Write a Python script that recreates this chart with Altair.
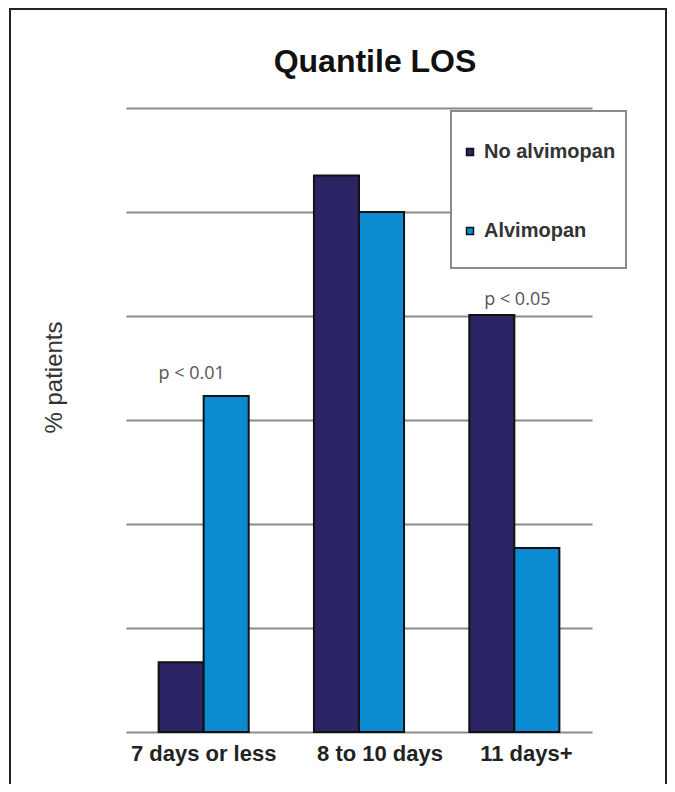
import altair as alt
import pandas as pd

categories = ["7 days or less", "8 to 10 days", "11 days+"]
series = ["No alvimopan", "Alvimopan"]
no_alvimopan = [6.7, 53.5, 40.1]
alvimopan = [32.3, 50.0, 17.7]
y_ticks = [0, 10, 20, 30, 40, 50, 60]
colors = ["#2b2566", "#0a8bd2"]
p_labels = ["p < 0.01", "p < 0.05"]
p_categories = ["7 days or less", "11 days+"]
p_heights = [33.9, 41.1]
chart_title = "Quantile LOS"

rows = []
for c, a, b in zip(categories, no_alvimopan, alvimopan):
    rows.append({"category": c, "group": series[0], "value": a})
    rows.append({"category": c, "group": series[1], "value": b})
df = pd.DataFrame(rows)
p_df = pd.DataFrame({"category": p_categories, "value": p_heights, "label": p_labels})

FONT = "Liberation Sans"
x_scale = alt.Scale(domain=categories, paddingInner=0.42, paddingOuter=0.21)
y_scale = alt.Scale(domain=[0, 60], nice=False, zero=True)

label_shift = {
    "condition": [
        {"test": "datum.value === '8 to 10 days'", "value": 21},
        {"test": "datum.value === '11 days+'", "value": 12},
    ],
    "value": 0,
}

bars = alt.Chart(df).mark_bar(stroke="#111111", strokeWidth=2).encode(
    x=alt.X("category:N", scale=x_scale, sort=categories,
            axis=alt.Axis(title=None, labelAngle=0, domain=False, ticks=False, tickSize=0,
                          labelFont=FONT, labelFontSize=22, labelFontWeight="bold",
                          labelColor="#222222", labelBaseline="alphabetic", labelPadding=28,
                          labelOffset=label_shift, grid=False)),
    xOffset=alt.XOffset("group:N", sort=series,
                        scale=alt.Scale(domain=series, paddingInner=0, paddingOuter=0)),
    y=alt.Y("value:Q", scale=y_scale,
            axis=alt.Axis(values=y_ticks, title="% patients", labels=False, ticks=False,
                          domain=False, grid=True, gridColor="#8a8a8a", gridWidth=2,
                          titleFont=FONT, titleFontSize=24, titleFontWeight="normal",
                          titleColor="#333333", titleX=-72, titleY=269, titleAngle=270,
                          titleAlign="center", titleBaseline="middle")),
    color=alt.Color("group:N", scale=alt.Scale(domain=series, range=colors),
                    legend=alt.Legend(title=None, orient="none", legendX=334, legendY=34,
                                      symbolType="square", symbolSize=49,
                                      symbolStrokeColor="#111111", symbolStrokeWidth=1.5,
                                      labelFont=FONT, labelFontSize=20, labelFontWeight="bold",
                                      labelColor="#333333", labelOffset=4, rowPadding=59,
                                      padding=0, direction="vertical")),
)

legend_box = alt.Chart(alt.Data(values=[{"k": 1}])).mark_rect(
    fill="white", stroke="#8a8a8a", strokeWidth=2
).encode(x=alt.value(325), x2=alt.value(500), y=alt.value(3), y2=alt.value(160))

frame = alt.Chart(alt.Data(values=[{"k": 1}])).mark_rect(
    filled=False, stroke="#222222", strokeWidth=2
).encode(x=alt.value(-116), x2=alt.value(540), y=alt.value(-99), y2=alt.value(682))

title_text = alt.Chart(alt.Data(values=[{"t": chart_title}])).mark_text(
    font=FONT, fontSize=32, fontWeight="bold", color="#111111",
    align="center", baseline="alphabetic"
).encode(x=alt.value(249), y=alt.value(-36), text="t:N")

p1 = alt.Chart(p_df.iloc[[0]]).mark_text(
    font="Open Sans", fontSize=18, color="#555555", align="center",
    baseline="alphabetic", dx=-12
).encode(x=alt.X("category:N", scale=x_scale, sort=categories),
         y=alt.Y("value:Q", scale=y_scale), text="label:N")

p2 = alt.Chart(p_df.iloc[[1]]).mark_text(
    font="Open Sans", fontSize=18, color="#555555", align="center",
    baseline="alphabetic", dx=3
).encode(x=alt.X("category:N", scale=x_scale, sort=categories),
         y=alt.Y("value:Q", scale=y_scale), text="label:N")

chart = alt.layer(bars, legend_box, frame, title_text, p1, p2).properties(
    width=466, height=624,
    padding={"left": 118, "top": 100, "right": 75, "bottom": 52},
    autosize=alt.AutoSizeParams(type="none"),
    background="white",
).configure_view(strokeWidth=0)

chart.save("out.html", embed_options={"renderer": "svg", "actions": False})
